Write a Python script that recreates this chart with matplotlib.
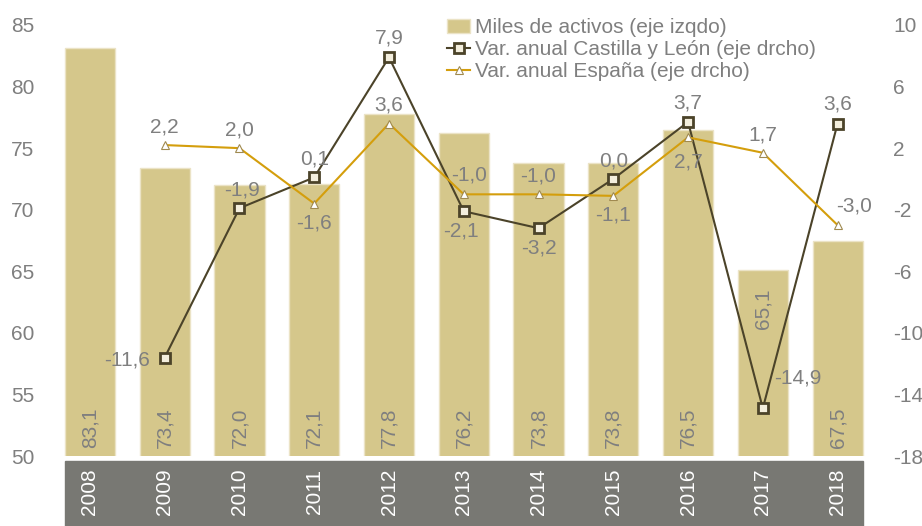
import numpy as np
import matplotlib
matplotlib.use("Agg")
import matplotlib.pyplot as plt
import matplotlib.transforms as mtransforms
from matplotlib.patches import Rectangle

plt.rcParams['font.family'] = ['Liberation Sans', 'DejaVu Sans']
plt.rcParams['axes.unicode_minus'] = False

years = ['2008', '2009', '2010', '2011', '2012', '2013', '2014', '2015', '2016', '2017', '2018']
activos = [83.1, 73.4, 72.0, 72.1, 77.8, 76.2, 73.8, 73.8, 76.5, 65.1, 67.5]
var_cyl = [np.nan, -11.6, -1.9, 0.1, 7.9, -2.1, -3.2, 0.0, 3.7, -14.9, 3.6]
var_esp = [np.nan, 2.2, 2.0, -1.6, 3.6, -1.0, -1.0, -1.1, 2.7, 1.7, -3.0]

# label placement (dx, dy in points)
cyl_off = [None, (-27, -2), (2, 13), (0, 13), (0, 14), (-2, -14), (0, -14), (0, 13), (0, 14), (25, 22), (0, 14)]
esp_off = [None, (0, 13), (0, 13), (0, -14), (0, 13), (4, 14), (0, 13), (0, -14), (0, -18), (0, 13), (12, 14)]

GRAY = '#7f7f7f'
BAR = '#d5c78b'
CYL = '#4b4329'
ESP = '#d49e0c'
FS = 15

fig = plt.figure(figsize=(9.22, 5.26), dpi=100)
ax = fig.add_axes([0.057, 0.133, 0.892, 0.8195])
x = np.arange(len(years))

ax.bar(x, activos, width=0.67, color=BAR, edgecolor='#ebe3c6', linewidth=1,
       label='Miles de activos (eje izqdo)', zorder=1)
ax.set_ylim(50, 85)
ax.set_xlim(-0.5, len(years) - 0.5)
ax.set_yticks(np.arange(50, 86, 5))
for xi, v in zip(x, activos):
    txt = f'{v:.1f}'.replace('.', ',')
    if v < 66:
        # short bar: label sits at the top of the bar
        ax.annotate(txt, (xi, v), xytext=(0, -13), textcoords='offset points',
                    rotation=90, ha='center', va='top', color=GRAY, fontsize=FS)
    else:
        ax.annotate(txt, (xi, 50), xytext=(0, 6), textcoords='offset points',
                    rotation=90, ha='center', va='bottom', color=GRAY, fontsize=FS)

ax2 = ax.twinx()
ax2.set_ylim(-18, 10)
ax2.set_yticks(np.arange(-18, 11, 4))
ax2.plot(x, var_cyl, color=CYL, lw=1.5, marker='s', ms=7, mfc='#f3eedd', mec=CYL, mew=2,
         label='Var. anual Castilla y León (eje drcho)', zorder=3)
ax2.plot(x, var_esp, color=ESP, lw=1.5, marker='^', ms=6, mfc='white', mec='#a08a50', mew=0.8,
         label='Var. anual España (eje drcho)', zorder=3)

for xi, v, off in zip(x, var_cyl, cyl_off):
    if off is None:
        continue
    ax2.annotate(f'{v:.1f}'.replace('.', ','), (xi, v), xytext=off, textcoords='offset points',
                 ha='center', va='center', color=GRAY, fontsize=FS, zorder=4)
for xi, v, off in zip(x, var_esp, esp_off):
    if off is None:
        continue
    ax2.annotate(f'{v:.1f}'.replace('.', ','), (xi, v), xytext=off, textcoords='offset points',
                 ha='center', va='center', color=GRAY, fontsize=FS, zorder=4)

for a in (ax, ax2):
    for s in a.spines.values():
        s.set_visible(False)
    a.tick_params(axis='y', length=0, labelsize=FS, labelcolor=GRAY, pad=13)

ax.set_xticks(x)
ax.set_xticklabels(years, rotation=90, color='white', fontsize=FS)
ax.tick_params(axis='x', length=0, pad=9)

# dark band behind category labels
trans = mtransforms.blended_transform_factory(ax.transData, ax.transAxes)
ax.add_patch(Rectangle((-0.335, -0.175), len(years) - 1 + 0.67, 0.163, transform=trans,
                       color='#787873', clip_on=False, zorder=0))

h1, l1 = ax.get_legend_handles_labels()
h2, l2 = ax2.get_legend_handles_labels()
ax2.legend(h1 + h2, l1 + l2, loc='upper left', bbox_to_anchor=(0.47, 1.035), frameon=False,
           fontsize=FS, labelcolor=GRAY, handlelength=1.1, handletextpad=0.2,
           labelspacing=0.15, borderaxespad=0)

fig.savefig('out.png', dpi=100)
